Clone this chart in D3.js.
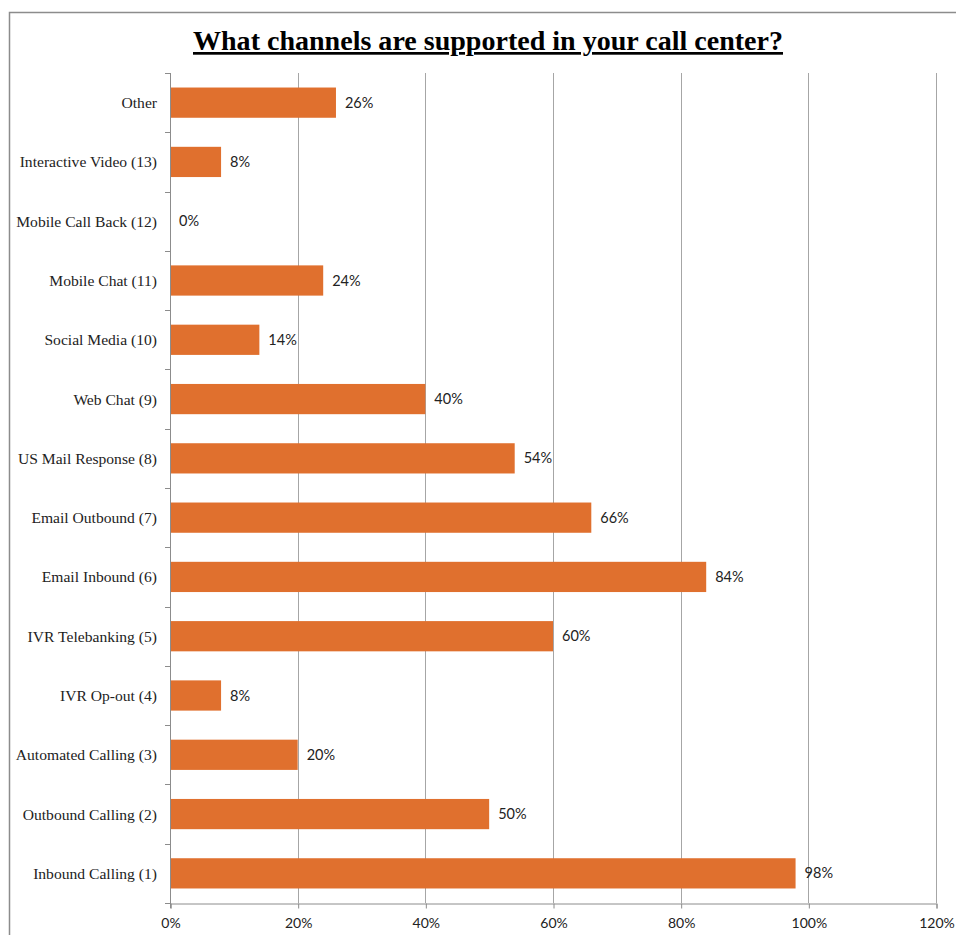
<!DOCTYPE html>
<html>
<head>
<meta charset="utf-8">
<script src="https://cdn.jsdelivr.net/npm/d3@7"></script>
<style>
  html, body { margin: 0; padding: 0; background: #fff; }
  svg { display: block; }
</style>
</head>
<body>
<svg id="chart" width="956" height="935"></svg>
<script>
// Survey answers, listed top to bottom as shown
const categories = [
  "Other",
  "Interactive Video (13)",
  "Mobile Call Back (12)",
  "Mobile Chat (11)",
  "Social Media (10)",
  "Web Chat (9)",
  "US Mail Response (8)",
  "Email Outbound (7)",
  "Email Inbound (6)",
  "IVR Telebanking (5)",
  "IVR Op-out (4)",
  "Automated Calling (3)",
  "Outbound Calling (2)",
  "Inbound Calling (1)"
];
const shares = [0.26, 0.08, 0.00, 0.24, 0.14, 0.40, 0.54, 0.66, 0.84, 0.60, 0.08, 0.20, 0.50, 0.98];
const xTicks = [0, 0.2, 0.4, 0.6, 0.8, 1.0, 1.2];
const titleText = "What channels are supported in your call center?";

const svg = d3.select("#chart");
const plotLeft = 170, plotRight = 936, plotTop = 73, plotBottom = 903;

const x = d3.scaleLinear().domain([0, 1.2]).range([plotLeft, plotRight]);
const y = d3.scaleBand().domain(categories).range([plotTop, plotBottom]).paddingInner(0.49).paddingOuter(0.245);

// Outer chart frame (runs off the right and bottom edges)
svg.append("path")
  .attr("d", "M9.5,960 L9.5,12.5 L980,12.5")
  .attr("fill", "none").attr("stroke", "#8c8c8c").attr("stroke-width", 1.5);

// Title
svg.append("text")
  .attr("x", 488).attr("y", 50)
  .attr("text-anchor", "middle")
  .attr("font-family", "'Liberation Serif', 'DejaVu Serif', serif")
  .attr("font-weight", "bold")
  .attr("font-size", 27)
  .attr("text-decoration", "underline")
  .attr("fill", "#000")
  .attr("textLength", 590)
  .attr("lengthAdjust", "spacingAndGlyphs")
  .text(titleText);

// Vertical gridlines
svg.append("g").selectAll("line").data(xTicks.slice(1)).join("line")
  .attr("x1", d => Math.round(x(d)) + 0.5).attr("x2", d => Math.round(x(d)) + 0.5)
  .attr("y1", plotTop).attr("y2", plotBottom)
  .attr("stroke", "#a6a6a6").attr("stroke-width", 1);

// X axis
const xAxis = d3.axisBottom(x).tickValues(xTicks).tickFormat(d3.format(".0%")).tickSize(5).tickPadding(10);
const gx = svg.append("g").attr("transform", `translate(0.5,${plotBottom + 0.5})`).call(xAxis);
gx.select(".domain").attr("stroke", "#8c8c8c");
gx.selectAll(".tick line").attr("stroke", "#8c8c8c");
gx.selectAll("text")
  .attr("font-family", "Lato, 'Open Sans', sans-serif")
  .attr("font-size", 14).attr("fill", "#222");

// Y axis with ticks at band boundaries
const step = y.step();
const bounds = d3.range(categories.length + 1).map(i => plotTop + i * step);
const gy = svg.append("g");
gy.append("line")
  .attr("x1", plotLeft + 0.5).attr("x2", plotLeft + 0.5).attr("y1", plotTop).attr("y2", plotBottom + 5)
  .attr("stroke", "#8c8c8c");
gy.selectAll("line.tk").data(bounds).join("line").attr("class", "tk")
  .attr("x1", plotLeft - 5).attr("x2", plotLeft)
  .attr("y1", d => Math.round(d) + 0.5).attr("y2", d => Math.round(d) + 0.5)
  .attr("stroke", "#8c8c8c");

// Category labels
svg.append("g").selectAll("text").data(categories).join("text")
  .attr("x", 157)
  .attr("y", d => y(d) + y.bandwidth() / 2)
  .attr("dy", "0.35em")
  .attr("text-anchor", "end")
  .attr("font-family", "'Liberation Serif', 'DejaVu Serif', serif")
  .attr("font-size", 15.6)
  .attr("fill", "#222")
  .text(d => d);

// Bars
svg.append("g").selectAll("rect").data(categories).join("rect")
  .attr("x", plotLeft + 1)
  .attr("y", d => y(d))
  .attr("width", (d, i) => Math.max(0, x(shares[i]) - plotLeft - 1))
  .attr("height", y.bandwidth())
  .attr("fill", "#e0702e");

// Value labels
svg.append("g").selectAll("text").data(categories).join("text")
  .attr("x", (d, i) => x(shares[i]) + 9)
  .attr("y", d => y(d) + y.bandwidth() / 2)
  .attr("dy", "0.35em")
  .attr("font-family", "Lato, 'Open Sans', sans-serif")
  .attr("font-size", 14.5)
  .attr("fill", "#222")
  .text((d, i) => d3.format(".0%")(shares[i]));
</script>
</body>
</html>
